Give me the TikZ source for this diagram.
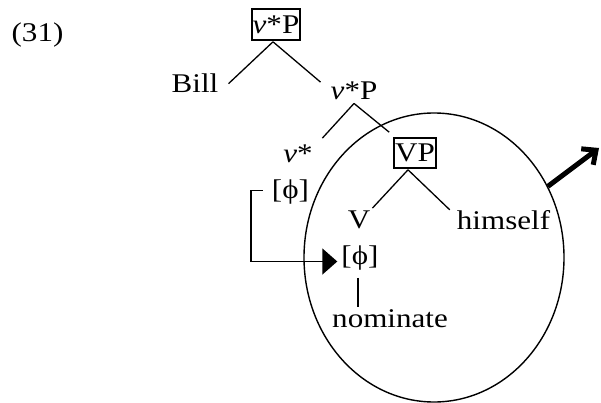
\documentclass[tikz,border=0pt]{standalone}
\usepackage{fontspec}
\setmainfont{Liberation Serif}[FakeStretch=1.15]
\usetikzlibrary{arrows.meta,shapes.geometric}
\begin{document}
\begin{tikzpicture}[x=1pt,y=-1pt,
  every node/.style={font=\fontsize{27}{32}\selectfont, inner sep=0pt},
  lbl/.style={anchor=base},
  boxed/.style={draw, line width=1.6pt, anchor=center},
  branch/.style={line width=1.3pt},
  flow/.style={line width=1.6pt, -{Triangle[length=15pt,width=26pt]}},
  outarrow/.style={line width=5pt, -{Straight Barb[length=11pt,width=20pt]}}]
\useasboundingbox (0,0) rectangle (601,403);
\node[lbl] (ex) at (37.5,42) {(31)};
\node[boxed, minimum width=48pt, minimum height=31pt] (top) at (276,24.5) {\textit{v}*P};
\node[lbl] (bill) at (195,93) {Bill};
\node[lbl] (vp2) at (354,100) {\textit{v}*P};
\node[lbl] (vstar) at (298,163) {\textit{v}*};
\node[boxed, minimum width=42pt, minimum height=30pt] (vp) at (415,153) {VP};
\node[lbl] (phi1) at (290.5,198) {[ϕ]};
\node[lbl] (V) at (359,228) {V};
\node[lbl] (him) at (503.5,229) {himself};
\node[lbl] (phi2) at (360,264) {[ϕ]};
\node[lbl] (nom) at (390,327) {nominate};
\node[draw, ellipse, line width=1.4pt, minimum width=260pt, minimum height=289pt] (circ) at (434,257.5) {};
\coordinate (out) at (599,148);
% branches
\draw[branch] ([shift={(-3,1)}]top.south) -- ([shift={(10,0)}]bill.east);
\draw[branch] ([shift={(-3,1)}]top.south) -- ([shift={(-10,0)}]vp2.north west);
\draw[branch] ([shift={(0,3)}]vp2.south) -- ([shift={(9.5,-7)}]vstar.north east);
\draw[branch] ([shift={(0,3)}]vp2.south) -- ([shift={(-4,-5)}]vp.north west);
\draw[branch] ([shift={(-7,1)}]vp.south) -- ([shift={(2,-2)}]V.north east);
\draw[branch] ([shift={(-7,1)}]vp.south) -- ([shift={(-7,0)}]him.north west);
\draw[branch] ([shift={(-2,8)}]phi2.south) -- ([shift={(-2,-2)}]phi2.south |- nom.north);
% feature valuation arrow
\draw[flow] ([shift={(-9,-1)}]phi1.west) -- ++(-12,0) |- ([shift={(-4,4)}]phi2.west);
% outgoing arrow
\draw[outarrow] (circ.32) -- (out);
\end{tikzpicture}
\end{document}
